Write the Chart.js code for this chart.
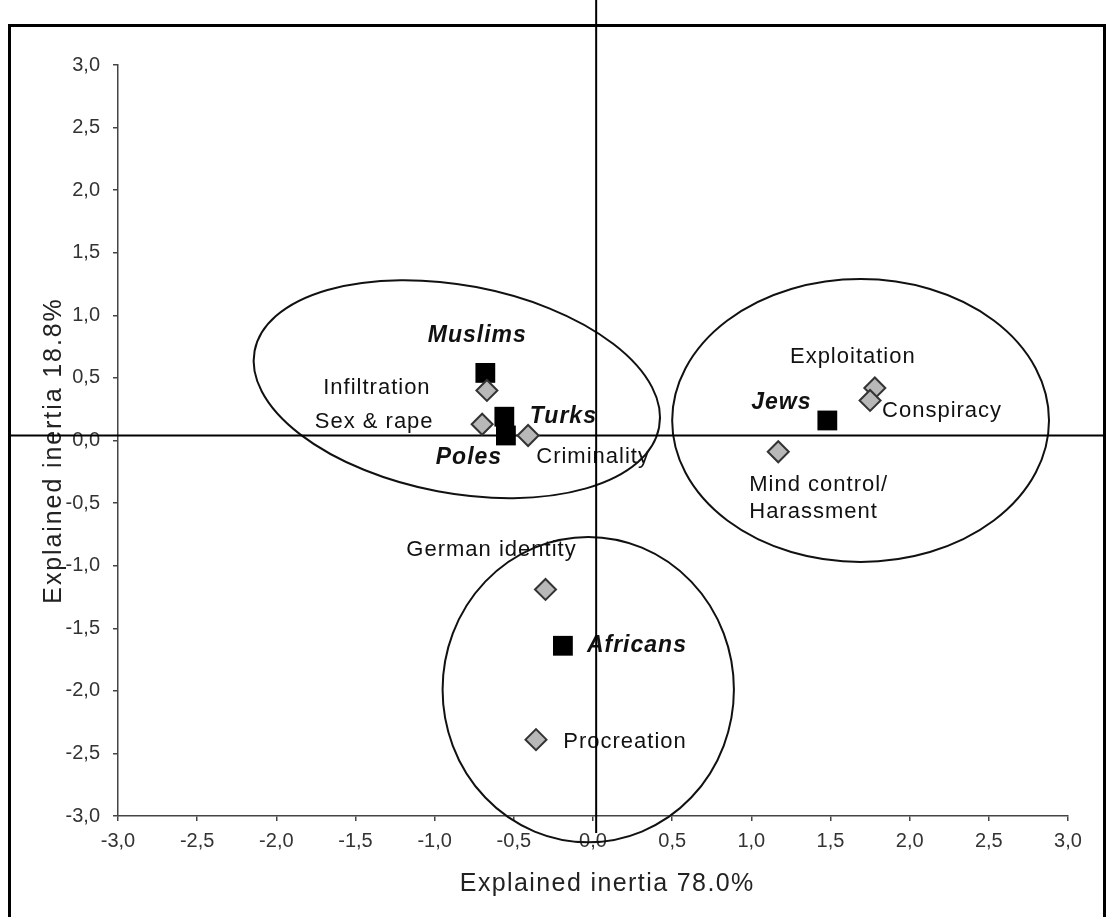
<!DOCTYPE html>
<html>
<head>
<meta charset="utf-8">
<script src="https://cdn.jsdelivr.net/npm/chart.js@4.4.1/dist/chart.umd.min.js"></script>
<style>
  html, body { margin: 0; padding: 0; background: #ffffff; }
  #wrap { width: 1106px; height: 917px; position: relative; }
</style>
</head>
<body>
<div id="wrap"><canvas id="map" width="1106" height="917"></canvas></div>
<script>
// Target groups (black squares)
const groupNames = ['Muslims', 'Turks', 'Poles', 'Jews', 'Africans'];
const groupX = [-0.68, -0.56, -0.55, 1.48, -0.19];
const groupY = [0.54, 0.19, 0.04, 0.16, -1.64];

// Themes (grey diamonds)
const themeNames = ['Infiltration', 'Sex & rape', 'Criminality', 'Exploitation', 'Conspiracy',
                    'Mind control/\nHarassment', 'German identity', 'Procreation'];
const themeX = [-0.67, -0.70, -0.41, 1.78, 1.75, 1.17, -0.30, -0.36];
const themeY = [0.40, 0.13, 0.04, 0.42, 0.32, -0.09, -1.19, -2.39];

// Cluster outlines: centre and radii in axis units, tilt in degrees
const clusterCx = [-0.86, 1.69, -0.03];
const clusterCy = [0.41, 0.16, -1.99];
const clusterRx = [1.30, 1.19, 0.92];
const clusterRy = [0.83, 1.13, 1.22];
const clusterTilt = [10.7, 0, 0];

// Axis ticks and titles
const tickValues = [-3, -2.5, -2, -1.5, -1, -0.5, 0, 0.5, 1, 1.5, 2, 2.5, 3];
const tickLabels = ['-3,0', '-2,5', '-2,0', '-1,5', '-1,0', '-0,5', '0,0', '0,5', '1,0', '1,5', '2,0', '2,5', '3,0'];
const xTitle = 'Explained inertia 78.0%';
const yTitle = 'Explained inertia 18.8%';

// Origin cross lines
const crossX = [0.02];
const crossY = [0.04];

// ---- label placement and styling (pixels relative to each marker) ----
const FONT = '"Liberation Sans", Arial, Helvetica, sans-serif';
const groupLabelFont = 'italic bold 23px ' + FONT;
const themeLabelFont = '22px ' + FONT;
const titleFont = '25px ' + FONT;
const groupLabelOffset = [[-8, -37], [59, 0], [-37, 22], [-46, -18], [74, 0]];
const themeLabelOffset = [[-110, -2], [-108, -2], [65, 21], [-22, -31], [72, 10], [-29, 33], [-54, -40], [89, 2]];
const themeLabelAlign = ['center', 'center', 'center', 'center', 'center', 'left', 'center', 'center'];
const themeLineHeight = 27;

const plotLeft = 118, plotRight = 1068, plotTop = 65, plotBottom = 816;

const decor = {
  id: 'decor',
  beforeDraw(chart) {
    const ctx = chart.ctx;
    ctx.save();
    ctx.fillStyle = '#ffffff';
    ctx.fillRect(0, 0, chart.width, chart.height);
    ctx.restore();
  },
  beforeDatasetsDraw(chart) {
    const ctx = chart.ctx;
    const xs = chart.scales.x, ys = chart.scales.y;

    // point labels
    ctx.save();
    ctx.fillStyle = '#111111';
    ctx.textBaseline = 'middle';
    ctx.font = groupLabelFont;
    ctx.letterSpacing = '1px';
    ctx.textAlign = 'center';
    groupNames.forEach((name, i) => {
      const px = xs.getPixelForValue(groupX[i]) + groupLabelOffset[i][0];
      const py = ys.getPixelForValue(groupY[i]) + groupLabelOffset[i][1];
      ctx.fillText(name, px, py);
    });
    ctx.font = themeLabelFont;
    ctx.letterSpacing = '1px';
    themeNames.forEach((name, i) => {
      const px = xs.getPixelForValue(themeX[i]) + themeLabelOffset[i][0];
      const py = ys.getPixelForValue(themeY[i]) + themeLabelOffset[i][1];
      ctx.textAlign = themeLabelAlign[i];
      name.split('\n').forEach((line, k) => ctx.fillText(line, px, py + k * themeLineHeight));
    });

    // axis titles
    ctx.fillStyle = '#222222';
    ctx.font = titleFont;
    ctx.textAlign = 'center';
    ctx.letterSpacing = '1.4px';
    ctx.fillText(xTitle, xs.getPixelForValue(0.09), 884);
    ctx.save();
    ctx.translate(54, ys.getPixelForValue(-0.08));
    ctx.rotate(-Math.PI / 2);
    ctx.letterSpacing = '1.9px';
    ctx.fillText(yTitle, 0, 0);
    ctx.restore();
    ctx.restore();

    // cluster ellipses
    const pxPerX = Math.abs(xs.getPixelForValue(1) - xs.getPixelForValue(0));
    const pxPerY = Math.abs(ys.getPixelForValue(0) - ys.getPixelForValue(1));
    ctx.save();
    ctx.strokeStyle = '#111111';
    ctx.lineWidth = 2;
    clusterCx.forEach((cx, i) => {
      ctx.beginPath();
      ctx.ellipse(xs.getPixelForValue(cx), ys.getPixelForValue(clusterCy[i]),
                  clusterRx[i] * pxPerX, clusterRy[i] * pxPerY,
                  clusterTilt[i] * Math.PI / 180, 0, Math.PI * 2);
      ctx.stroke();
    });

    // origin cross
    ctx.strokeStyle = '#000000';
    ctx.lineWidth = 2;
    const vx = xs.getPixelForValue(crossX[0]);
    const hy = ys.getPixelForValue(crossY[0]);
    ctx.beginPath();
    ctx.moveTo(vx, 0);
    ctx.lineTo(vx, ys.getPixelForValue(-3) + 17);
    ctx.moveTo(11, hy);
    ctx.lineTo(chart.width - 3, hy);
    ctx.stroke();

    // outer frame
    ctx.lineWidth = 3;
    ctx.strokeRect(9.5, 25.5, chart.width - 11, chart.height + 20);
    ctx.restore();
  }
};

const tickOpts = (pad) => ({
  min: -3, max: 3,
  afterBuildTicks: (scale) => { scale.ticks = tickValues.map(v => ({ value: v })); },
  ticks: {
    autoSkip: false,
    maxRotation: 0,
    padding: pad,
    color: '#333333',
    font: { family: FONT, size: 20 },
    callback: (v, idx) => tickLabels[idx]
  },
  grid: { display: true, drawOnChartArea: false, drawTicks: true, tickLength: 5, color: '#444444', lineWidth: 1.5 },
  border: { display: true, color: '#444444', width: 1.5 }
});

const xOpts = Object.assign(tickOpts(8), {
  type: 'linear', position: 'bottom',
  title: { display: false, text: xTitle },
  afterFit: (scale) => { scale.height = 917 - plotBottom; }
});
const yOpts = Object.assign(tickOpts(13), {
  type: 'linear', position: 'left',
  title: { display: false, text: yTitle },
  afterFit: (scale) => { scale.width = plotLeft; }
});

new Chart(document.getElementById('map'), {
  type: 'scatter',
  data: {
    datasets: [
      {
        label: 'Themes',
        data: themeX.map((x, i) => ({ x, y: themeY[i] })),
        pointStyle: 'rectRot',
        pointRadius: 10.5,
        pointHoverRadius: 10.5,
        backgroundColor: '#b8b8b8',
        borderColor: '#333333',
        borderWidth: 2
      },
      {
        label: 'Groups',
        data: groupX.map((x, i) => ({ x, y: groupY[i] })),
        pointStyle: 'rect',
        pointRadius: 14,
        pointHoverRadius: 14,
        backgroundColor: '#000000',
        borderColor: '#000000',
        borderWidth: 0
      }
    ]
  },
  options: {
    responsive: false,
    devicePixelRatio: 1,
    animation: false,
    events: [],
    layout: { padding: { left: 0, right: 1106 - plotRight, top: plotTop, bottom: 0 } },
    plugins: { legend: { display: false }, tooltip: { enabled: false } },
    scales: { x: xOpts, y: yOpts }
  },
  plugins: [decor]
});
</script>
</body>
</html>
